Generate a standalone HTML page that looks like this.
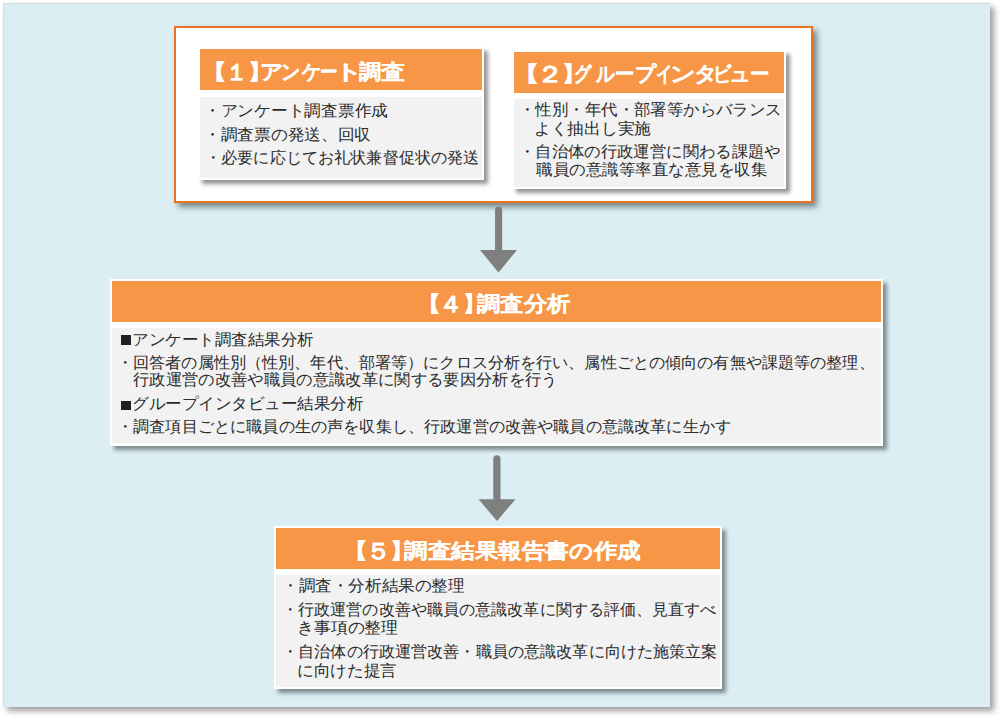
<!DOCTYPE html>
<html><head><meta charset="utf-8">
<style>
html,body{margin:0;padding:0;background:#fff;width:1004px;height:721px;overflow:hidden;position:relative;font-family:"Liberation Sans",sans-serif}
.abs{position:absolute}
.panel{position:absolute;left:3.4px;top:3px;width:986.6px;height:704px;background:#DAEEF3;box-shadow:4px 4px 6px rgba(0,0,0,0.38),inset 1px 1px 1px rgba(0,0,0,0.07)}
.frame{position:absolute;left:173.6px;top:26.1px;width:639.4px;height:176.9px;box-sizing:border-box;border:2px solid #E8731E;background:#fff;box-shadow:3.5px 3.5px 6px rgba(0,0,0,0.45)}
.box{position:absolute;background:#fff;box-shadow:4px 4px 4px rgba(0,0,0,0.42)}
.hdr{position:absolute;background:#F79646}
.bdy{position:absolute;background:#F2F2F2}
.t{position:absolute;white-space:nowrap;line-height:1;transform-origin:0 0;font-family:"Liberation Sans",sans-serif}
.hd{font-weight:bold;-webkit-text-stroke:0.1px #fff}
.sq{position:absolute;background:#1f1f1f}
</style></head><body>
<div class="panel"></div>
<div class="frame"></div>
<!-- box1 -->
<div class="box" style="left:198px;top:47px;width:286px;height:132.8px"></div>
<div class="hdr" style="left:200px;top:49px;width:282px;height:41.4px"></div>
<div class="bdy" style="left:200px;top:96.6px;width:282px;height:81px"></div>
<!-- box2 -->
<div class="box" style="left:512px;top:49.5px;width:274px;height:139.5px"></div>
<div class="hdr" style="left:514px;top:51.5px;width:270px;height:41.4px"></div>
<div class="bdy" style="left:514px;top:99px;width:270px;height:87.8px"></div>
<!-- box4 -->
<div class="box" style="left:110px;top:278.5px;width:773px;height:167.5px"></div>
<div class="hdr" style="left:112px;top:280.8px;width:769px;height:41px"></div>
<div class="bdy" style="left:112px;top:327.8px;width:769px;height:115.7px"></div>
<div class="sq" style="left:120.5px;top:335px;width:10.3px;height:9.6px"></div>
<div class="sq" style="left:120.5px;top:400.5px;width:10.3px;height:9.6px"></div>
<!-- box5 -->
<div class="box" style="left:274px;top:526px;width:448px;height:163px"></div>
<div class="hdr" style="left:276px;top:528px;width:444px;height:41.4px"></div>
<div class="bdy" style="left:276px;top:575px;width:444px;height:111.8px"></div>
<!-- arrows -->
<svg class="abs" style="left:0;top:0" width="1004" height="721" viewBox="0 0 1004 721">
<path fill="#7F7F7F" d="M495.05 210 A3.55 3.55 0 0 1 502.15 210 L502.15 250 L517 250 L498.5 272.5 L480 250 L495.05 250 Z"/>
<path fill="#7F7F7F" d="M493.3 458.9 A3.6 3.6 0 0 1 500.5 458.9 L500.5 499.2 L515.5 499.2 L497 521.1 L478.6 499.2 L493.3 499.2 Z"/>
</svg>
<div class="t hd" style="left:200.57px;top:62.25px;font-size:20.5px;color:#fff;transform:scaleX(1.2333)">【</div>
<div class="t hd" style="left:225.88px;top:60.53px;font-size:20.5px;color:#fff;transform:scale(1.0636,1.1375)">１</div>
<div class="t hd" style="left:247.70px;top:62.25px;font-size:20.5px;color:#fff;transform:scaleX(1.1500)">】</div>
<div class="t hd" style="left:259.91px;top:62.40px;font-size:20.5px;color:#fff;transform:scaleX(1.0944)">ア</div>
<div class="t hd" style="left:280.58px;top:62.40px;font-size:20.5px;color:#fff;transform:scaleX(0.9111)">ン</div>
<div class="t hd" style="left:301.60px;top:62.40px;font-size:20.5px;color:#fff;transform:scaleX(0.9000)">ケ</div>
<div class="t hd" style="left:320.46px;top:62.40px;font-size:20.5px;color:#fff;transform:scaleX(0.8368)">ー</div>
<div class="t hd" style="left:333.61px;top:62.40px;font-size:20.5px;color:#fff;transform:scaleX(1.3700)">ト</div>
<div class="t hd" style="left:358.50px;top:62.40px;font-size:20.5px;color:#fff;transform:scaleX(1.0600)">調</div>
<div class="t hd" style="left:381.00px;top:62.40px;font-size:20.5px;color:#fff;transform:scaleX(1.1550)">査</div>
<div class="t" style="left:204.28px;top:102.95px;font-size:15.5px;color:#2b2b2b;transform:scaleX(1.0452)">・アンケート調査票作成</div>
<div class="t" style="left:204.29px;top:127.40px;font-size:15.5px;color:#2b2b2b;transform:scaleX(1.0447)">・調査票の発送、回収</div>
<div class="t" style="left:204.54px;top:149.80px;font-size:15.5px;color:#2b2b2b;transform:scaleX(1.0087)">・必要に応じてお礼状兼督促状の発送</div>
<div class="t hd" style="left:512.08px;top:64.25px;font-size:20.5px;color:#fff;transform:scaleX(1.3167)">【</div>
<div class="t hd" style="left:536.74px;top:62.76px;font-size:20.5px;color:#fff;transform:scale(1.2727,1.1188)">２</div>
<div class="t hd" style="left:561.93px;top:64.25px;font-size:20.5px;color:#fff;transform:scaleX(1.1333)">】</div>
<div class="t hd" style="left:574.35px;top:63.60px;font-size:20.5px;color:#fff;transform:scaleX(0.8250)">グ</div>
<div class="t hd" style="left:595.70px;top:63.60px;font-size:20.5px;color:#fff;transform:scaleX(0.8905)">ル</div>
<div class="t hd" style="left:615.08px;top:63.60px;font-size:20.5px;color:#fff;transform:scaleX(0.9211)">ー</div>
<div class="t hd" style="left:634.70px;top:63.60px;font-size:20.5px;color:#fff;transform:scaleX(0.9952)">プ</div>
<div class="t hd" style="left:656.12px;top:63.60px;font-size:20.5px;color:#fff;transform:scaleX(0.7875)">イ</div>
<div class="t hd" style="left:669.60px;top:63.60px;font-size:20.5px;color:#fff;transform:scaleX(1.2000)">ン</div>
<div class="t hd" style="left:694.11px;top:63.60px;font-size:20.5px;color:#fff;transform:scaleX(1.0938)">タ</div>
<div class="t hd" style="left:712.52px;top:63.60px;font-size:20.5px;color:#fff;transform:scaleX(0.8706)">ビ</div>
<div class="t hd" style="left:728.82px;top:63.60px;font-size:20.5px;color:#fff;transform:scaleX(1.0250)">ュ</div>
<div class="t hd" style="left:749.57px;top:63.60px;font-size:20.5px;color:#fff;transform:scaleX(0.9263)">ー</div>
<div class="t" style="left:519.32px;top:102.05px;font-size:15.5px;color:#2b2b2b;transform:scaleX(1.0263)">・性別・年代・部署等からバランス</div>
<div class="t" style="left:534.11px;top:120.90px;font-size:15.5px;color:#2b2b2b;transform:scaleX(1.0464)">よく抽出し実施</div>
<div class="t" style="left:519.34px;top:143.70px;font-size:15.5px;color:#2b2b2b;transform:scaleX(1.0222)">・自治体の行政運営に関わる課題や</div>
<div class="t" style="left:535.60px;top:162.20px;font-size:15.5px;color:#2b2b2b;transform:scaleX(1.0314)">職員の意識等率直な意見を収集</div>
<div class="t hd" style="left:416.20px;top:294.25px;font-size:20.5px;color:#fff;transform:scaleX(1.2000)">【</div>
<div class="t hd" style="left:439.42px;top:292.76px;font-size:20.5px;color:#fff;transform:scale(1.1692,1.1187)">４</div>
<div class="t hd" style="left:463.07px;top:294.25px;font-size:20.5px;color:#fff;transform:scaleX(1.0667)">】</div>
<div class="t hd" style="left:477.20px;top:293.85px;font-size:20.5px;color:#fff;transform:scaleX(1.1131)">調査分析</div>
<div class="t" style="left:132.24px;top:331.50px;font-size:15.5px;color:#2b2b2b;transform:scaleX(1.0318)">アンケート調査結果分析</div>
<div class="t" style="left:117.45px;top:354.70px;font-size:15.5px;color:#2b2b2b;transform:scaleX(1.0075)">・回答者の属性別（性別、年代、部署等）にクロス分析を行い、属性ごとの傾向の有無や課題等の整理、</div>
<div class="t" style="left:133.28px;top:372.35px;font-size:15.5px;color:#2b2b2b;transform:scaleX(1.0212)">行政運営の改善や職員の意識改革に関する要因分析を行う</div>
<div class="t" style="left:132.23px;top:396.20px;font-size:15.5px;color:#2b2b2b;transform:scaleX(1.0326)">グループインタビュー結果分析</div>
<div class="t" style="left:117.43px;top:418.60px;font-size:15.5px;color:#2b2b2b;transform:scaleX(1.0100)">・調査項目ごとに職員の生の声を収集し、行政運営の改善や職員の意識改革に生かす</div>
<div class="t hd" style="left:343.42px;top:541.25px;font-size:20.5px;color:#fff;transform:scaleX(1.1833)">【</div>
<div class="t hd" style="left:366.30px;top:539.76px;font-size:20.5px;color:#fff;transform:scale(1.2000,1.1187)">５</div>
<div class="t hd" style="left:389.93px;top:541.25px;font-size:20.5px;color:#fff;transform:scaleX(1.1333)">】</div>
<div class="t hd" style="left:404.20px;top:540.85px;font-size:20.5px;color:#fff;transform:scaleX(1.1223)">調査結果報告書の作成</div>
<div class="t" style="left:281.74px;top:578.45px;font-size:15.5px;color:#2b2b2b;transform:scaleX(1.0375)">・調査・分析結果の整理</div>
<div class="t" style="left:281.96px;top:601.85px;font-size:15.5px;color:#2b2b2b;transform:scaleX(1.0059)">・行政運営の改善や職員の意識改革に関する評価、見直すべ</div>
<div class="t" style="left:297.39px;top:619.80px;font-size:15.5px;color:#2b2b2b;transform:scaleX(1.0538)">き事項の整理</div>
<div class="t" style="left:281.94px;top:644.20px;font-size:15.5px;color:#2b2b2b;transform:scaleX(1.0083)">・自治体の行政運営改善・職員の意識改革に向けた施策立案</div>
<div class="t" style="left:297.41px;top:662.60px;font-size:15.5px;color:#2b2b2b;transform:scaleX(1.0430)">に向けた提言</div>
<script>(function(){var W=[25.90,22.34,24.15,24.08,20.04,19.80,17.57,30.14,22.26,24.25,183.96,167.15,274.37,27.65,26.73,23.80,18.15,19.59,19.34,21.89,17.32,26.40,24.06,19.15,22.55,19.45,262.73,117.20,261.68,231.03,25.20,24.55,22.40,93.50,181.60,757.64,424.82,231.30,614.08,24.85,25.20,23.80,236.81,182.60,434.55,101.16,435.59,100.13];var e=document.querySelectorAll(".t");for(var i=0;i<e.length&&i<W.length;i++){var t=e[i].style.transform;var m=/scale\(([0-9.]+),\s*([0-9.]+)\)/.exec(t);var sy=m?m[2]:null;e[i].style.transform="none";var w=e[i].getBoundingClientRect().width;if(w>0){var k=W[i]/w;e[i].style.transform=sy?("scale("+k+","+sy+")"):("scaleX("+k+")");}else{e[i].style.transform=t;}}})();</script>
</body></html>
